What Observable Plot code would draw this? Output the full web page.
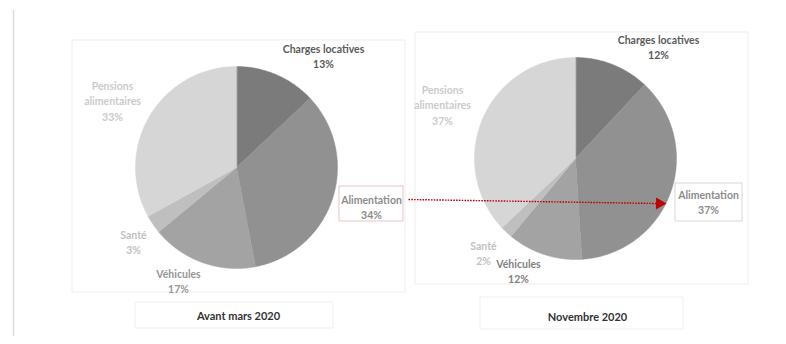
<!DOCTYPE html>
<html>
<head>
<meta charset="utf-8">
<script src="https://cdn.jsdelivr.net/npm/d3@7"></script>
<script src="https://cdn.jsdelivr.net/npm/@observablehq/plot@0.6"></script>
<style>
  html, body { margin: 0; padding: 0; background: #fff; }
  #chart svg { display: block; }
</style>
</head>
<body>
<div id="chart"></div>
<script>
// ---- data ----
const categories = ["Charges locatives", "Alimentation", "Véhicules", "Santé", "Pensions alimentaires"];
const avantMars2020 = [13, 34, 17, 3, 33];
const novembre2020 = [12, 37, 12, 2, 37];
const periods = ["Avant mars 2020", "Novembre 2020"];

// ---- styles / layout (not data) ----
const sliceColors = ["#7b7b7b", "#919191", "#a3a3a3", "#bfbfbf", "#d6d6d6"];
const labelColors = [
  ["#5a5a5a", "#8c8c8c", "#969696", "#c2c2c2", "#cbcbcb"],
  ["#5a5a5a", "#8c8c8c", "#828282", "#c2c2c2", "#cbcbcb"]
];
const W = 786, H = 344;
const pieCenters = [[236, 167], [575, 158]];
const radius = 101;
const labelPos = [
  [[323, 55], [371, 206], [178, 280], [133, 241], [112, 100]],
  [[658, 46], [708, 201], [518, 270], [483, 252], [442, 104]]
];
const frames = [
  {x1: 72, x2: 405, y1: 40, y2: 292},
  {x1: 415, x2: 748, y1: 32, y2: 284}
];
const captionBoxes = [
  {x1: 135, x2: 333, y1: 302, y2: 328, tx: 238, ty: 316},
  {x1: 480, x2: 683, y1: 297, y2: 329, tx: 587, ty: 317}
];
const alimBoxes = [
  {x1: 339, x2: 403, y1: 186, y2: 221, stroke: "#ecc4c4"},
  {x1: 675, x2: 742, y1: 183, y2: 221, stroke: "#d8d8d8"}
];
const arrowSeg = {x1: 408, y1: 199, x2: 656, y2: 203};
const leftRule = {x: 13, y1: 10, y2: 336};

const series = [avantMars2020, novembre2020];

// slice polygons
const sliceRows = [];
series.forEach((values, i) => {
  const [cx, cy] = pieCenters[i];
  const arcs = d3.pie().sort(null).value(d => d)(values);
  arcs.forEach((a, j) => {
    const key = periods[i] + "|" + categories[j];
    sliceRows.push({key, category: categories[j], x: cx, y: cy});
    const n = Math.max(2, Math.ceil((a.endAngle - a.startAngle) / (Math.PI / 360)));
    for (let k = 0; k <= n; k++) {
      const t = a.startAngle + (a.endAngle - a.startAngle) * k / n;
      sliceRows.push({key, category: categories[j], x: cx + radius * Math.sin(t), y: cy - radius * Math.cos(t)});
    }
  });
});

// labels
const labelRows = [];
series.forEach((values, i) => {
  values.forEach((v, j) => {
    const name = categories[j] === "Pensions alimentaires" ? "Pensions\nalimentaires" : categories[j];
    labelRows.push({x: labelPos[i][j][0], y: labelPos[i][j][1], text: name + "\n" + v + "%", color: labelColors[i][j]});
  });
});

const font = "Lato, 'Liberation Sans', sans-serif";

const chart = Plot.plot({
  width: W,
  height: H,
  margin: 0,
  x: {domain: [0, W], range: [0, W], axis: null},
  y: {domain: [0, H], range: [0, H], axis: null},
  color: {domain: categories, range: sliceColors},
  style: {background: "#fff"},
  marks: [
    Plot.ruleX([leftRule], {x: "x", y1: "y1", y2: "y2", stroke: "#dcdcdc", strokeWidth: 1.5}),
    Plot.rect(frames, {x1: "x1", x2: "x2", y1: "y1", y2: "y2", fill: "none", stroke: "#eeeeee"}),
    Plot.rect(captionBoxes, {x1: "x1", x2: "x2", y1: "y1", y2: "y2", fill: "none", stroke: "#efefef"}),
    Plot.line(sliceRows, {x: "x", y: "y", z: "key", fill: "category", stroke: "category", strokeWidth: 0.5, curve: "linear-closed"}),
    Plot.rect(alimBoxes, {x1: "x1", x2: "x2", y1: "y1", y2: "y2", fill: "none", stroke: d => d.stroke}),
    Plot.link([arrowSeg], {x1: "x1", y1: "y1", x2: "x2", y2: "y2", stroke: "#c00000", strokeWidth: 1.4, strokeDasharray: "1.6,1.2"}),
    Plot.dot([arrowSeg], {x: d => d.x2 + 3, y: "y2", symbol: "triangle", r: 4.5, rotate: 91, fill: "#c00000", stroke: "none"}),
    Plot.text(labelRows, {x: "x", y: "y", text: "text", fill: d => d.color, fontSize: 10.5, fontWeight: "bold", fontFamily: font, lineHeight: 1.45, textAnchor: "middle", lineAnchor: "middle"}),
    Plot.text(captionBoxes, {x: "tx", y: "ty", text: (d, i) => periods[i], fill: "#333", fontSize: 11, fontWeight: "bold", fontFamily: font, textAnchor: "middle", lineAnchor: "middle"})
  ]
});
document.getElementById("chart").append(chart);
</script>
</body>
</html>
